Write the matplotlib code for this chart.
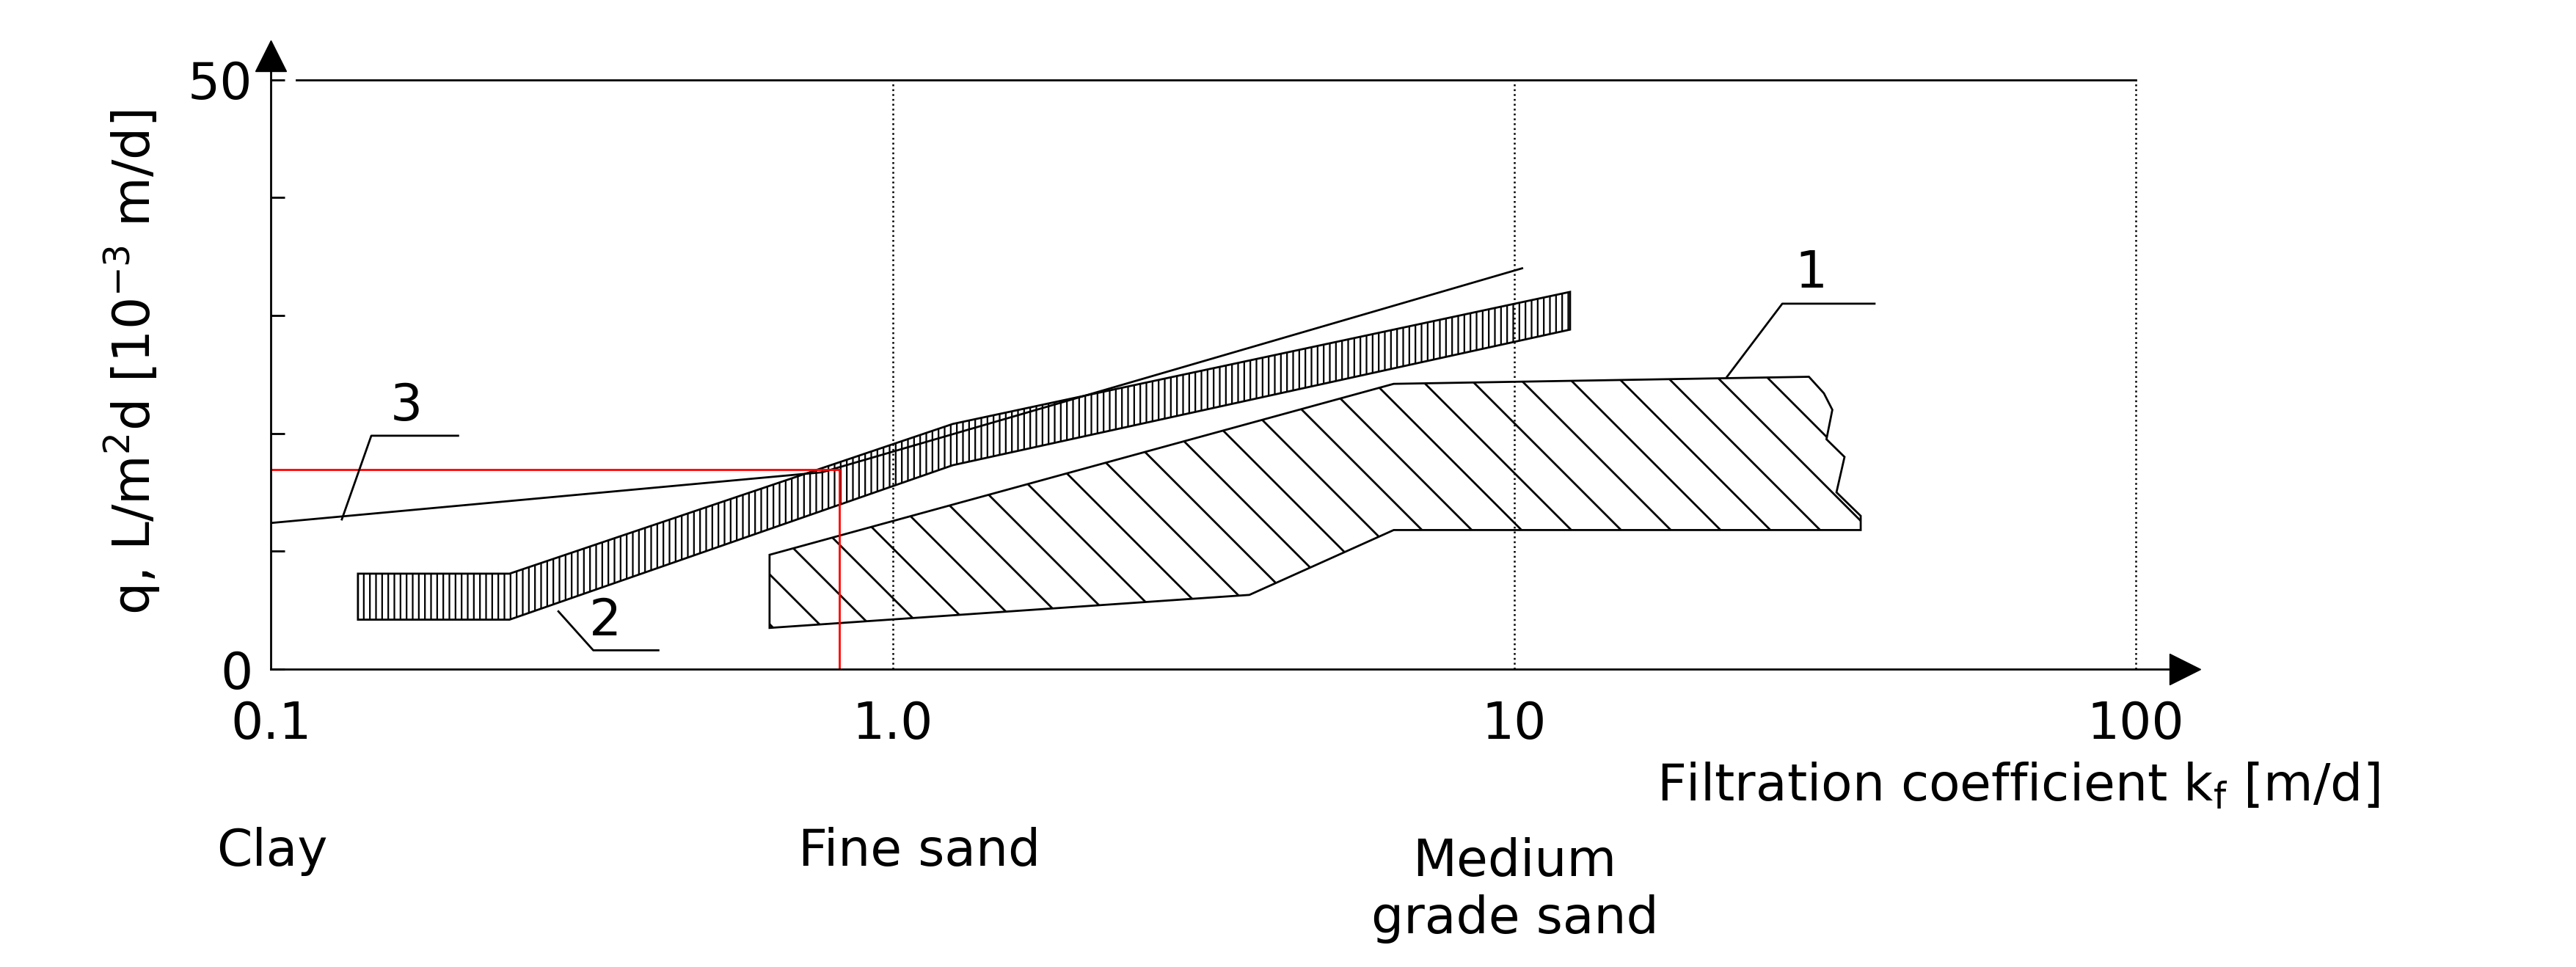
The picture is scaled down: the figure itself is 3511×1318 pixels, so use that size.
import numpy as np
import matplotlib
matplotlib.use("Agg")
import matplotlib.pyplot as plt
from matplotlib.patches import Polygon

plt.rcParams.update({"font.family": "DejaVu Sans", "hatch.linewidth": 1.6})

# band 2 (vertical hatch): upper and lower edge
b2_x_up = [0.138, 0.242, 1.25, 12.3]
b2_y_up = [8.1, 8.1, 20.8, 32.0]
b2_x_lo = [0.138, 0.242, 1.25, 12.3]
b2_y_lo = [4.2, 4.2, 17.3, 28.8]
# band 1 (diagonal hatch) outline, clockwise from top-left
b1_x = [0.634, 6.4, 29.8, 31.5, 32.5, 31.8, 34.0, 33.0, 36.1, 36.1, 6.4, 3.75, 0.634]
b1_y = [9.7, 24.2, 24.8, 23.4, 22.0, 19.5, 18.0, 15.0, 13.0, 11.8, 11.8, 6.3, 3.5]
# curve 3
l3_x = [0.1, 0.77, 10.3]
l3_y = [12.4, 16.7, 34.0]
# red reading lines
red_k = 0.82
red_q = 16.9

FS = 50

fig = plt.figure(figsize=(35.11, 13.18), dpi=100)
ax = fig.add_axes([0.1052, 0.308, 0.743, 0.634])
ax.set_xscale("log")
ax.set_xlim(0.1, 120)
ax.set_ylim(0, 52)
for s in ["top", "right"]:
    ax.spines[s].set_visible(False)
for s in ["left", "bottom"]:
    ax.spines[s].set_linewidth(2)
ax.plot(1, 0, ">k", ms=30, transform=ax.transAxes, clip_on=False)
ax.plot(0, 1, "^k", ms=30, transform=ax.transAxes, clip_on=False)
ax.plot([0.11, 100], [50, 50], color="black", lw=2)
for xv in [1, 10, 100]:
    ax.axvline(xv, color="black", ls=":", lw=1.8, ymax=50 / 52)

ax.set_xticks([0.1, 1, 10, 100])
ax.set_xticklabels(["0.1", "1.0", "10", "100"])
ax.xaxis.set_minor_locator(matplotlib.ticker.NullLocator())
ax.set_yticks([0, 10, 20, 30, 40, 50])
ax.set_yticklabels(["0", "", "", "", "", "50"])
ax.tick_params(labelsize=FS, length=14, width=2, direction="in", pad=18)
ax.tick_params(axis="x", length=0, pad=30)

# band 2
xs = b2_x_up + b2_x_lo[::-1]
ys = b2_y_up + b2_y_lo[::-1]
ax.add_patch(Polygon(list(zip(xs, ys)), closed=True, facecolor="white",
                     edgecolor="black", lw=2, hatch="||"))
# band 1 with sparse diagonal rules clipped to outline
p1 = Polygon(list(zip(b1_x, b1_y)), closed=True, facecolor="none", edgecolor="black", lw=2)
ax.add_patch(p1)
for off in np.arange(-0.4, 1.2, 0.026):
    ln, = ax.plot([off, off + 0.32], [1, 0], color="black", lw=2, transform=ax.transAxes)
    ln.set_clip_path(p1)

ax.plot(l3_x, l3_y, color="black", lw=2)
ax.plot([0.1, red_k], [red_q, red_q], color="red", lw=2)
ax.plot([red_k, red_k], [0, red_q], color="red", lw=2)

# labels with leaders
ax.plot([22.0, 27.0, 38.0], [24.8, 31.0, 31.0], color="black", lw=2)
ax.text(30.0, 31.5, "1", fontsize=FS, ha="center", va="bottom")
ax.plot([0.29, 0.33, 0.42], [4.9, 1.6, 1.6], color="black", lw=2)
ax.text(0.345, 2.0, "2", fontsize=FS, ha="center", va="bottom")
ax.plot([0.13, 0.145, 0.2], [12.7, 19.8, 19.8], color="black", lw=2)
ax.text(0.165, 20.2, "3", fontsize=FS, ha="center", va="bottom")

ax.set_ylabel("q, L/m$^2$d [10$^{-3}$ m/d]", fontsize=FS, labelpad=25)
fig.text(0.643, 0.172, "Filtration coefficient k$_\\mathregular{f}$ [m/d]", fontsize=FS)
fig.text(0.084, 0.105, "Clay", fontsize=FS)
fig.text(0.357, 0.105, "Fine sand", fontsize=FS, ha="center")
fig.text(0.588, 0.035, "Medium\ngrade sand", fontsize=FS, ha="center", linespacing=1.2)

fig.savefig("out.png", dpi=100)
